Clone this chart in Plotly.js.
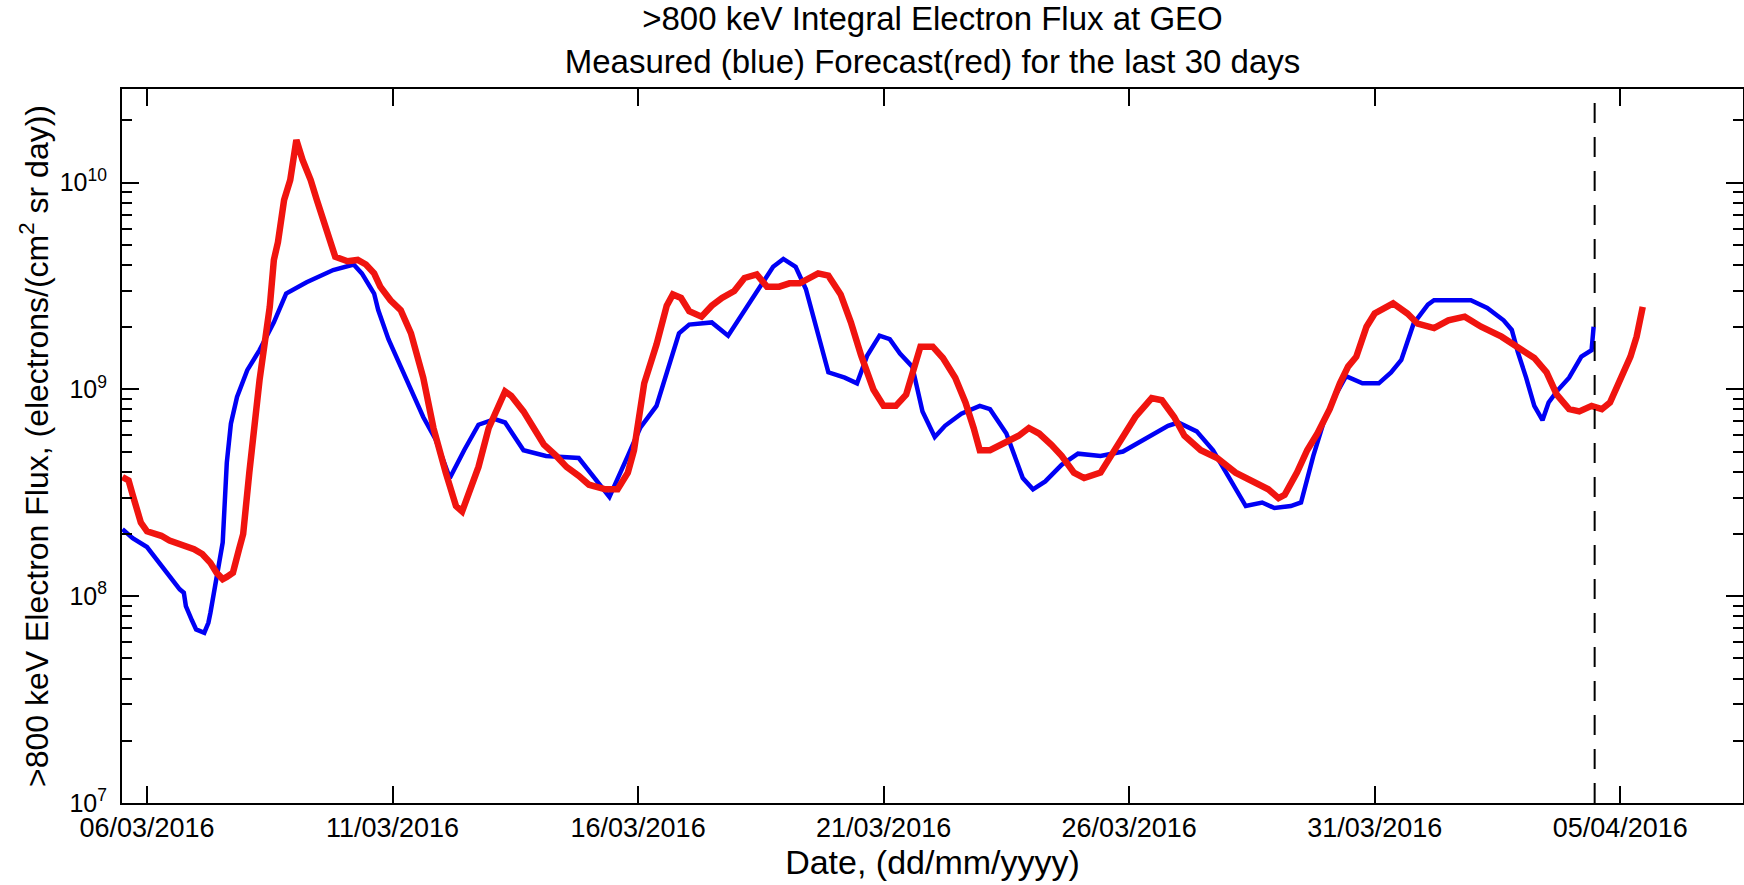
<!DOCTYPE html>
<html>
<head>
<meta charset="utf-8">
<script src="https://cdn.plot.ly/plotly-3.0.1.min.js"></script>
<style>
  html, body { margin: 0; padding: 0; background: #ffffff; }
  #chart { width: 1744px; height: 885px; }
</style>
</head>
<body>
<div id="chart"></div>
<script>
// Times are hours after 06/03/2016 00:00 UTC; flux in electrons/(cm^2 sr day)
const measuredHours = [-12,-7,0,6,13,16,18,19,22,24,28,30,31,34,37,39,41,44,49,55,
  62,68,78,91,101,105,111,113,118,124,129,135,141,148,155,162,170,175,184,195,
  211,219,226,235,241,249,254,260,265,276,284,290,298,306,311,317,322,328,333,341,
  347,352,358,363,368,374,379,385,390,398,407,412,420,428,433,439,447,455,466,477,
  488,499,504,513,521,529,537,545,551,559,564,570,575,581,586,594,602,608,613,619,
  626,629,647,655,663,667,670,674,678,682,685,689,695,701,706,707];
const measuredFlux = [2.11e8,1.91e8,1.73e8,1.45e8,1.16e8,1.08e8,1.04e8,8.96e7,7.63e7,6.91e7,
  6.66e7,7.44e7,8.32e7,1.21e8,1.82e8,4.43e8,6.83e8,9.20e8,1.24e9,1.55e9,
  2.11e9,2.91e9,3.30e9,3.78e9,4.02e9,3.64e9,2.91e9,2.42e9,1.75e9,1.29e9,
  1.00e9,7.36e8,5.75e8,3.73e8,5.08e8,6.75e8,7.18e8,6.92e8,5.08e8,4.77e8,
  4.66e8,3.73e8,3.02e8,4.77e8,6.51e8,8.33e8,1.21e9,1.87e9,2.06e9,2.11e9,
  1.82e9,2.25e9,2.99e9,3.92e9,4.28e9,3.92e9,3.06e9,1.87e9,1.21e9,1.14e9,
  1.07e9,1.46e9,1.82e9,1.75e9,1.49e9,1.29e9,7.83e8,5.89e8,6.67e8,7.64e8,
  8.33e8,8.03e8,6.12e8,3.73e8,3.29e8,3.59e8,4.32e8,4.89e8,4.77e8,5.01e8,
  5.75e8,6.67e8,6.92e8,6.27e8,5.08e8,3.73e8,2.73e8,2.84e8,2.67e8,2.73e8,
  2.84e8,4.77e8,6.92e8,9.43e8,1.16e9,1.07e9,1.07e9,1.21e9,1.39e9,2.08e9,
  2.57e9,2.70e9,2.70e9,2.48e9,2.16e9,1.94e9,1.51e9,1.14e9,8.33e8,7.10e8,
  8.65e8,9.79e8,1.14e9,1.44e9,1.55e9,2.01e9];

const forecastHours = [-12,-9,-7,-3,0,7,11,18,23,27,31,34,37,39,42,45,47,50,52,54,
  55,60,62,64,66,67,70,72,73,76,80,83,86,89,92,98,103,107,111,114,
  119,124,129,135,140,146,151,154,156,162,167,173,175,178,184,189,194,200,205,211,
  216,224,230,235,238,243,249,254,257,261,265,271,276,281,287,292,298,303,309,314,
  319,328,333,339,344,349,355,360,366,371,375,378,384,389,395,400,404,407,412,417,
  426,431,436,442,447,453,458,466,472,477,483,491,496,502,507,515,523,532,540,548,
  553,556,562,567,572,578,583,587,591,596,600,609,616,621,629,636,644,652,662,670,
  678,684,689,695,700,706,711,715,719,723,725,728,731];
const forecastFlux = [3.77e8,3.63e8,3.09e8,2.27e8,2.06e8,1.96e8,1.86e8,1.77e8,1.69e8,1.60e8,
  1.45e8,1.30e8,1.21e8,1.24e8,1.30e8,1.69e8,2.00e8,3.96e8,5.89e8,9.20e8,
  1.11e9,2.51e9,4.23e9,5.15e9,6.60e9,8.25e9,1.03e10,1.34e10,1.61e10,1.29e10,
  1.03e10,8.25e9,6.60e9,5.28e9,4.38e9,4.17e9,4.23e9,4.02e9,3.64e9,3.14e9,
  2.70e9,2.42e9,1.87e9,1.14e9,6.51e8,3.96e8,2.73e8,2.57e8,2.91e8,4.22e8,
  6.51e8,9.09e8,9.79e8,9.32e8,7.83e8,6.51e8,5.40e8,4.77e8,4.22e8,3.82e8,
  3.46e8,3.29e8,3.29e8,3.96e8,5.08e8,1.07e9,1.65e9,2.54e9,2.88e9,2.77e9,
  2.39e9,2.25e9,2.54e9,2.77e9,2.99e9,3.46e9,3.60e9,3.14e9,3.14e9,3.26e9,
  3.26e9,3.64e9,3.55e9,2.88e9,2.11e9,1.46e9,1.00e9,8.33e8,8.33e8,9.43e8,
  1.29e9,1.61e9,1.61e9,1.42e9,1.14e9,8.65e8,6.51e8,5.08e8,5.08e8,5.40e8,
  5.97e8,6.51e8,6.12e8,5.40e8,4.77e8,3.96e8,3.73e8,3.96e8,4.89e8,5.97e8,
  7.36e8,9.09e8,8.87e8,7.36e8,5.97e8,5.08e8,4.66e8,3.96e8,3.63e8,3.29e8,
  2.98e8,3.09e8,3.96e8,5.08e8,6.12e8,8.03e8,1.07e9,1.29e9,1.44e9,2.01e9,
  2.33e9,2.61e9,2.33e9,2.08e9,1.98e9,2.16e9,2.25e9,2.01e9,1.80e9,1.61e9,
  1.42e9,1.21e9,9.43e8,8.03e8,7.83e8,8.33e8,8.03e8,8.65e8,1.07e9,1.29e9,
  1.44e9,1.80e9,2.51e9];

// Last measurement time, marked by the dashed line
const nowHours = 707.5;

const xTickDates = ['2016-03-06','2016-03-11','2016-03-16','2016-03-21','2016-03-26','2016-03-31','2016-04-05'];
const xTickLabels = ['06/03/2016','11/03/2016','16/03/2016','21/03/2016','26/03/2016','31/03/2016','05/04/2016'];
const xRange = ['2016-03-05 11:47', '2016-04-07 12:00'];

const yTickVals = [1e7, 1e8, 1e9, 1e10];
const yTickLabels = ['10<sup>7</sup>', '10<sup>8</sup>', '10<sup>9</sup>', '10<sup>10</sup>'];
const yRangeLog = [7, 10.453];

const startMs = Date.UTC(2016, 2, 6, 0, 0, 0);
function hoursToDate(h) {
  return new Date(startMs + h * 3600000).toISOString().replace('T', ' ').slice(0, 19);
}

// minor ticks at 2..9 within each decade
const yMinorVals = [];
for (let d = 7; d <= 10; d++) {
  for (let m = 2; m <= 9; m++) {
    const v = m * Math.pow(10, d);
    if (Math.log10(v) < yRangeLog[1]) yMinorVals.push(v);
  }
}

const measured = {
  type: 'scatter', mode: 'lines',
  x: measuredHours.map(hoursToDate), y: measuredFlux,
  line: { color: 'rgb(0,0,245)', width: 4.5 },
  hoverinfo: 'skip'
};
const forecast = {
  type: 'scatter', mode: 'lines',
  x: forecastHours.map(hoursToDate), y: forecastFlux,
  line: { color: 'rgb(240,20,15)', width: 6.5 },
  hoverinfo: 'skip'
};

const axisCommon = {
  showline: true, linecolor: 'black', linewidth: 2,
  mirror: 'ticks', ticks: 'inside', ticklen: 17, tickwidth: 2, tickcolor: 'black',
  showgrid: false, zeroline: false, automargin: false
};

const layout = {
  width: 1744, height: 885,
  margin: { l: 122, r: 1, t: 89, b: 82 },
  paper_bgcolor: '#ffffff', plot_bgcolor: '#ffffff',
  showlegend: false,
  font: { family: '"Liberation Sans", Arial, Helvetica, sans-serif', color: '#000000' },
  title: {
    text: '&gt;800 keV Integral Electron Flux at GEO<br>Measured (blue) Forecast(red) for the last 30 days',
    font: { size: 33, color: '#000000' },
    xref: 'paper', x: 0.5, xanchor: 'center',
    yref: 'container', y: 0.966, yanchor: 'top'
  },
  xaxis: Object.assign({}, axisCommon, {
    type: 'date', range: xRange,
    tickmode: 'array', tickvals: xTickDates, ticktext: xTickLabels,
    tickfont: { size: 27 },
    title: { text: 'Date, (dd/mm/yyyy)', font: { size: 34 }, standoff: 0 }
  }),
  yaxis: Object.assign({}, axisCommon, {
    type: 'log', range: yRangeLog,
    tickmode: 'array', tickvals: yTickVals, ticktext: yTickLabels,
    tickfont: { size: 25 }, ticklabelstandoff: 8,
    minor: { tickmode: 'array', tickvals: yMinorVals, ticks: 'inside', ticklen: 10, tickwidth: 2, tickcolor: 'black', showgrid: false },
    title: { text: '&gt;800 keV Electron Flux, (electrons/(cm<sup>2</sup> sr day))', font: { size: 32 }, standoff: 2 }
  }),
  shapes: [{
    type: 'line', xref: 'x', yref: 'paper',
    x0: hoursToDate(nowHours), x1: hoursToDate(nowHours), y0: 0, y1: 1,
    line: { color: '#000000', width: 2, dash: '20px,14px' }
  }]
};

Plotly.newPlot('chart', [measured, forecast], layout, { displayModeBar: false, staticPlot: true });
</script>
</body>
</html>
